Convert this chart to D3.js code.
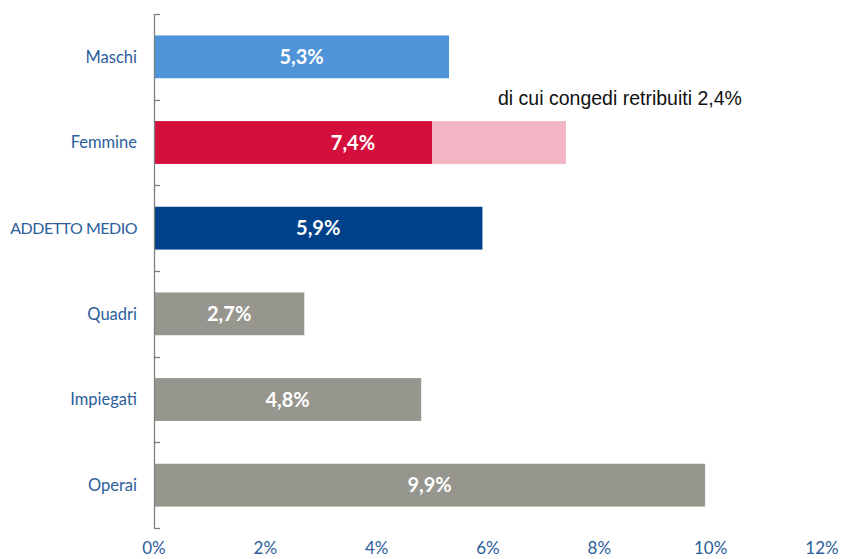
<!DOCTYPE html>
<html><head><meta charset="utf-8">
<script src="https://cdn.jsdelivr.net/npm/d3@7"></script>
<style>body{margin:0;background:#fff}</style>
</head><body>
<svg id="c" width="842" height="559"></svg>
<script>
const categories = ["Maschi","Femmine","ADDETTO MEDIO","Quadri","Impiegati","Operai"];
const values = [5.3, 7.4, 5.9, 2.7, 4.8, 9.9];
const congedi = [0, 2.4, 0, 0, 0, 0];
const labels = ["5,3%","7,4%","5,9%","2,7%","4,8%","9,9%"];
const colors = ["#4F93D9","#D50F3B","#00428A","#96968E","#96968E","#96968E"];
const congediColor = "#F2B5C3";
const xTicks = [0,2,4,6,8,10,12];
const annotation = "di cui congedi retribuiti 2,4%";

const svg = d3.select("#c");
const x = d3.scaleLinear().domain([0,12]).range([154,822]);
const y = d3.scaleBand().domain(categories).range([14,528]).paddingInner(0.5).paddingOuter(0.25);
const labelFont = "Lato, 'Open Sans', sans-serif";
const blue = "#2C5E9B";

// bars
categories.forEach((c,i)=>{
  const base = values[i]-congedi[i];
  svg.append("rect").attr("x",x(0)).attr("y",y(c)).attr("width",x(base)-x(0)).attr("height",y.bandwidth()).attr("fill",colors[i]);
  if (congedi[i]>0) {
    svg.append("rect").attr("x",x(base)).attr("y",y(c)).attr("width",x(values[i])-x(base)).attr("height",y.bandwidth()).attr("fill",congediColor);
  }
  svg.append("text").attr("x",(x(0)+x(values[i]))/2 - (congedi[i]>0?7:0)).attr("y",y(c)+y.bandwidth()/2)
    .attr("dy","0.36em").attr("text-anchor","middle").attr("fill","#fff")
    .attr("font-family",labelFont).attr("font-weight","bold").attr("font-size","20px").text(labels[i]);
});

// y axis
const yAxisG = svg.append("g");
yAxisG.append("line").attr("x1",154.5).attr("x2",154.5).attr("y1",14).attr("y2",528).attr("stroke","#7f7f7f").attr("stroke-width",1.3);
const bounds = d3.range(categories.length+1).map(k=>14 + k*(514/categories.length));
bounds.forEach(b=>yAxisG.append("line").attr("x1",154).attr("x2",160).attr("y1",Math.round(b)+0.5).attr("y2",Math.round(b)+0.5).attr("stroke","#7f7f7f").attr("stroke-width",1.3));
categories.forEach(c=>{
  const caps = c === c.toUpperCase();
  yAxisG.append("text").attr("x",137).attr("y",y(c)+y.bandwidth()/2).attr("dy","0.36em")
    .attr("text-anchor","end").attr("fill",blue).attr("font-family",labelFont)
    .attr("font-size", caps ? "16px" : "16.5px")
    .attr("letter-spacing", caps ? "-0.5px" : "0px").text(c);
});

// x tick labels
xTicks.forEach(t=>{
  svg.append("text").attr("x",x(t)).attr("y",548).attr("dy","0.36em").attr("text-anchor","middle")
    .attr("fill",blue).attr("font-family",labelFont).attr("font-size","17px").text(t+"%");
});

// annotation
svg.append("text").attr("x",498).attr("y",105).attr("fill","#111").attr("font-family","'Liberation Sans', Arial, sans-serif")
  .attr("font-size","19.5px").text(annotation);
</script>
</body></html>
